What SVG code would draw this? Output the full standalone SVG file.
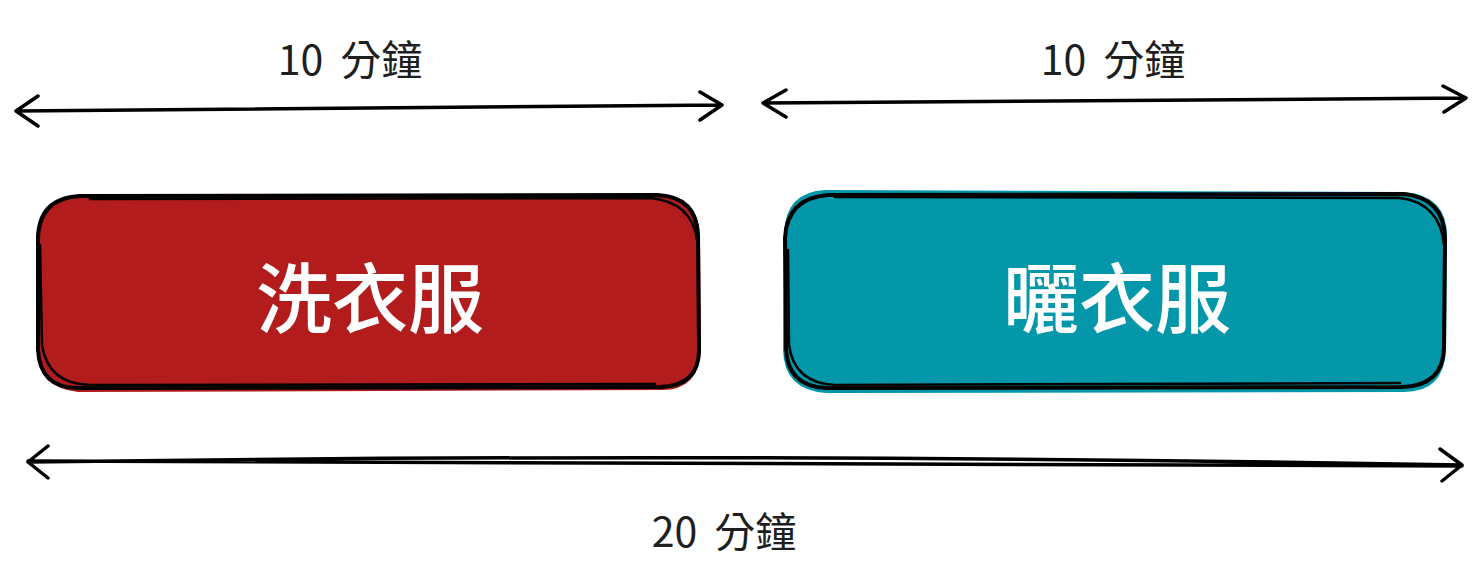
<svg xmlns="http://www.w3.org/2000/svg" width="1484" height="582" viewBox="0 0 1484 582">
<style>
.ln{fill:none;stroke:#000;stroke-width:3.5;stroke-linecap:round;stroke-linejoin:round}
.bx{fill:none;stroke:#000;stroke-width:4;stroke-linecap:round;stroke-linejoin:round}
.thin{fill:none;stroke:#000;stroke-width:2.5;stroke-linecap:round}
.lbl{font-family:"Noto Sans CJK TC","Liberation Sans",sans-serif;font-size:41px;fill:#1e1e1e;text-anchor:middle;word-spacing:8px}
.big{font-family:"Noto Sans CJK TC","Liberation Serif",serif;font-size:76px;font-weight:500;fill:#fff;text-anchor:middle}
</style>
<rect width="1484" height="582" fill="#fff"/>
<g id="wash">
<path d="M75 197 L660 195 Q700 198 700 238 L701 350 Q699 390 662 390 L78 392 Q38 388 37 350 L36 238 Q39 199 75 197 Z" fill="#b21c1c"/>
<path class="bx" d="M80 196 L658 195 Q697 197 698 236 L699 348 Q700 386 660 387 L80 388 Q40 389 38 350 L38 240 Q38 198 80 196"/>
<path class="thin" d="M90 199 L650 198 Q692 202 697 240 M40 245 L42 345 Q48 384 90 385 L655 384"/>
<text class="big" x="370" y="327">洗衣服</text>
</g>
<g id="dry">
<path d="M825 190 L1405 192 Q1447 196 1447 236 L1446 350 Q1444 392 1404 392 L826 393 Q784 390 783 350 L784 232 Q786 192 825 190 Z" fill="#0397a9"/>
<path class="bx" d="M828 195 L1404 194 Q1444 198 1445 238 L1444 348 Q1443 386 1402 387 L826 388 Q787 386 786 348 L785 238 Q787 198 828 195"/>
<path class="thin" d="M835 197 L1400 198 Q1440 203 1444 245 M788 250 L789 345 Q794 383 835 385 L1400 383"/>
<text class="big" x="1117" y="327">曬衣服</text>
</g>
<g id="connectors">
<path class="ln" d="M16 111 L722 105 M38 96 L16 111 L38 126 M700 92 L722 105 L700 120"/>
<path class="ln" d="M763 103 L1466 98 M786 90 L763 103 L786 117 M1443 86 L1466 98 L1444 112"/>
<path class="ln" d="M28 462 Q740 452 1462 465 M28 461 L1462 466 M48 446 L28 462 L48 478 M1440 449 L1462 465 L1442 481"/>
</g>
<g id="labels">
<text class="lbl" x="350" y="75">10 分鐘</text>
<text class="lbl" x="1113" y="75">10 分鐘</text>
<text class="lbl" x="724" y="547">20 分鐘</text>
</g>
</svg>
